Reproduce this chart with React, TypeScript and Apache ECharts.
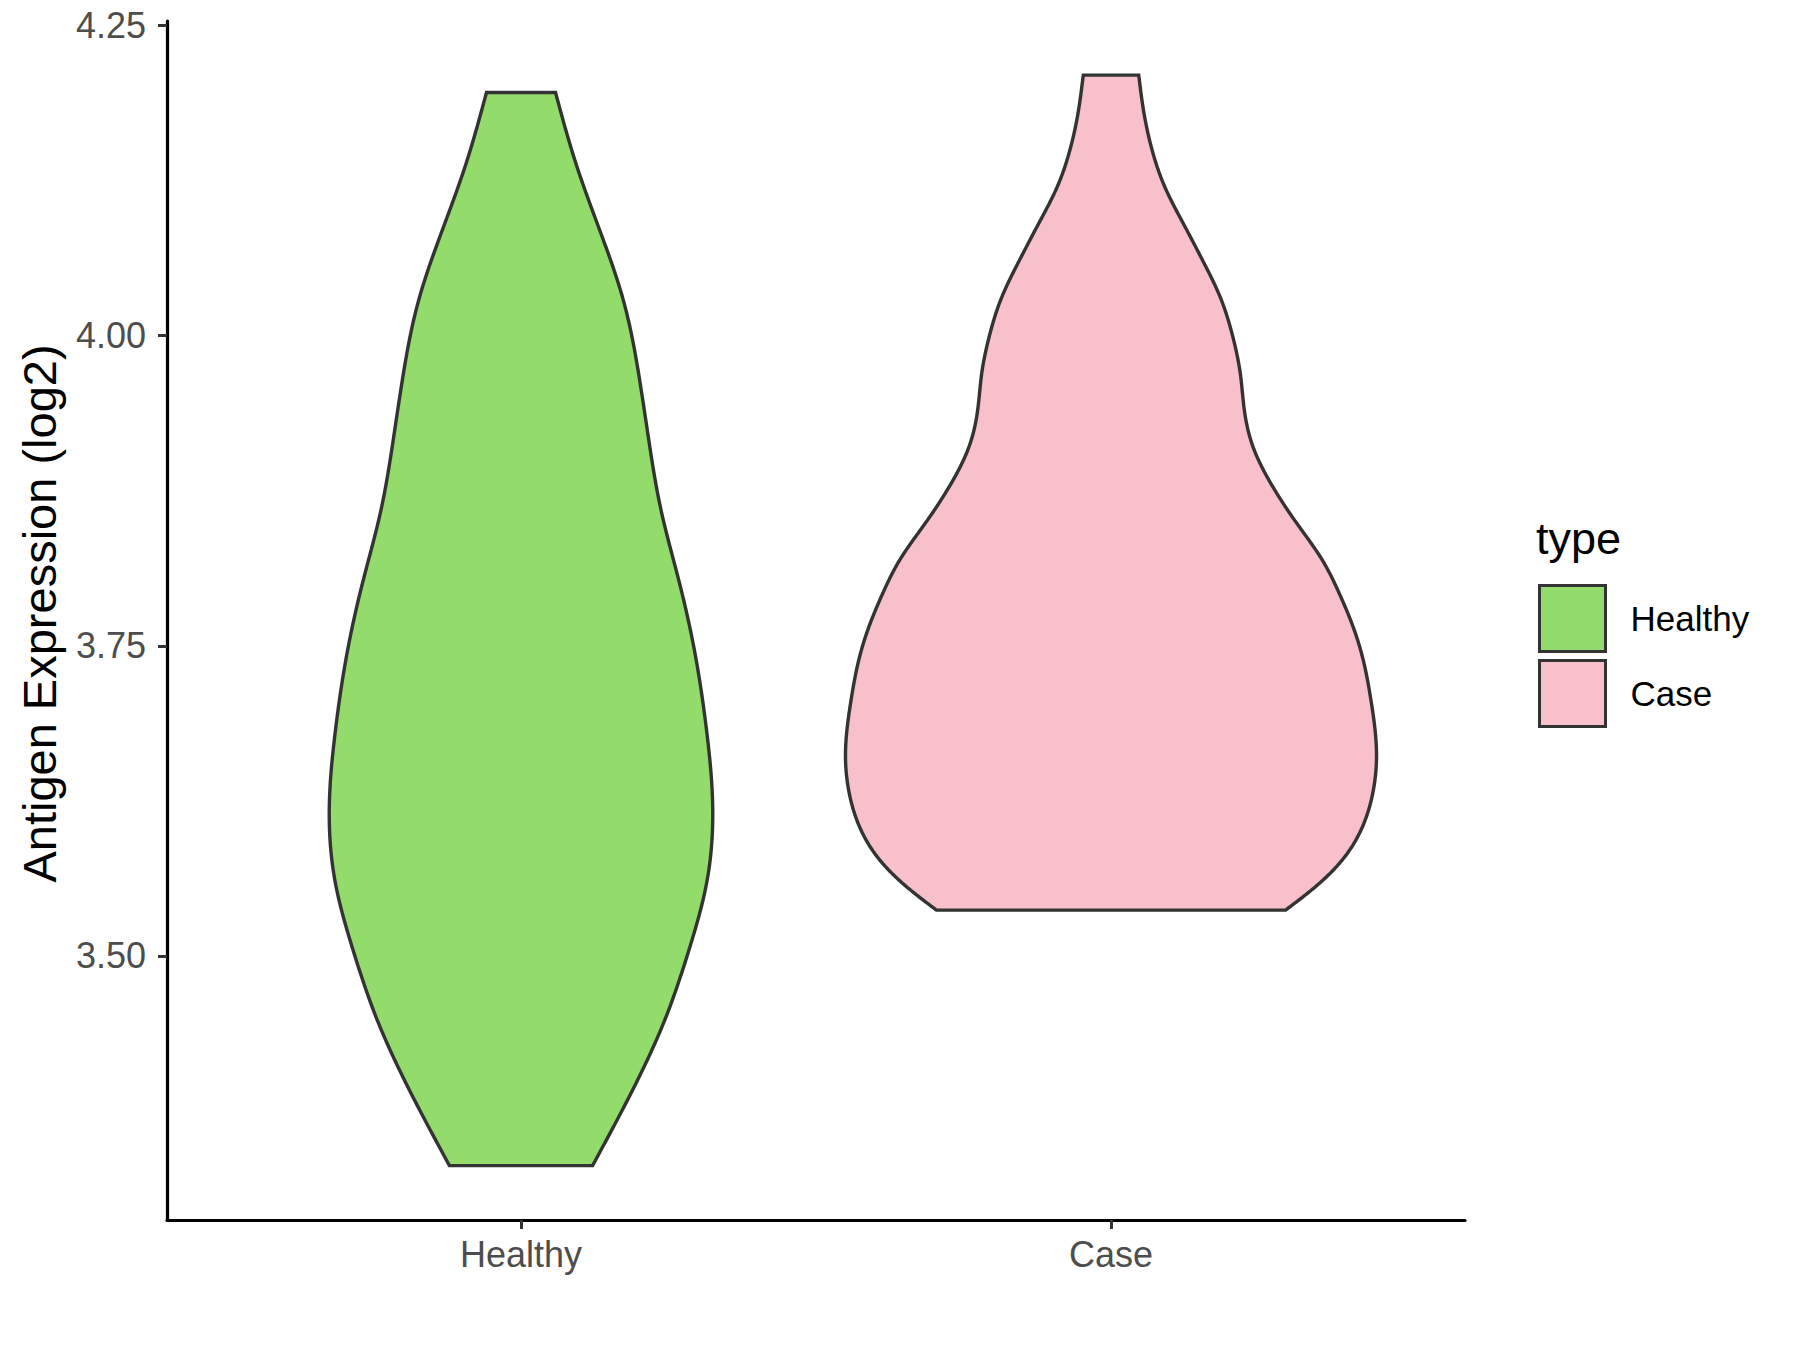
import React, { useEffect, useRef } from "react";
import * as echarts from "echarts";

// ---- data ----
const categories = ["Healthy", "Case"];
const yTicks = [3.5, 3.75, 4.0, 4.25];
const yMin = 3.2872;
const yMax = 4.2536;

// violin outline: expression value and half-width (in category units)
const healthyY = [3.331, 3.395, 3.449, 3.505, 3.559, 3.621, 3.68, 3.75, 3.804, 3.858, 3.912, 3.966, 4.03, 4.084, 4.138, 4.196];
const healthyHalfWidth = [0.1213, 0.1924, 0.2442, 0.2848, 0.3147, 0.3249, 0.315, 0.2925, 0.2668, 0.238, 0.2178, 0.2005, 0.1726, 0.1342, 0.0936, 0.0585];

const caseY = [3.537, 3.556, 3.578, 3.605, 3.632, 3.659, 3.705, 3.745, 3.772, 3.79, 3.82, 3.85, 3.88, 3.91, 3.94, 3.97, 4.0, 4.03, 4.06, 4.09, 4.119, 4.149, 4.179, 4.21];
const caseHalfWidth = [0.296, 0.347, 0.393, 0.427, 0.444, 0.45, 0.441, 0.424, 0.405, 0.389, 0.357, 0.313, 0.272, 0.241, 0.226, 0.219, 0.206, 0.186, 0.156, 0.123, 0.092, 0.07, 0.056, 0.047];

const fillColors = ["#93DB6A", "#F7C0CB"];
const outline = "#333333";
const FONT = "Liberation Sans, Arial, Helvetica, sans-serif";

// natural cubic spline through (xs, ys); returns an evaluator
function makeSpline(xs: number[], ys: number[]) {
  const n = xs.length;
  const h: number[] = [];
  for (let i = 0; i < n - 1; i++) h.push(xs[i + 1] - xs[i]);
  const M = new Array(n).fill(0);
  if (n > 2) {
    const a: number[] = [], b: number[] = [], c: number[] = [], d: number[] = [];
    for (let i = 1; i < n - 1; i++) {
      a.push(h[i - 1]);
      b.push(2 * (h[i - 1] + h[i]));
      c.push(h[i]);
      d.push(6 * ((ys[i + 1] - ys[i]) / h[i] - (ys[i] - ys[i - 1]) / h[i - 1]));
    }
    const m = b.length;
    for (let i = 1; i < m; i++) {
      const w = a[i] / b[i - 1];
      b[i] -= w * c[i - 1];
      d[i] -= w * d[i - 1];
    }
    const sol = new Array(m).fill(0);
    sol[m - 1] = d[m - 1] / b[m - 1];
    for (let i = m - 2; i >= 0; i--) sol[i] = (d[i] - c[i] * sol[i + 1]) / b[i];
    for (let i = 0; i < m; i++) M[i + 1] = sol[i];
  }
  return (x: number, i: number) => {
    const hi = h[i];
    const A = xs[i + 1] - x;
    const B = x - xs[i];
    return (
      (M[i] * A * A * A) / (6 * hi) +
      (M[i + 1] * B * B * B) / (6 * hi) +
      (ys[i] / hi - (M[i] * hi) / 6) * A +
      (ys[i + 1] / hi - (M[i + 1] * hi) / 6) * B
    );
  };
}

export default function App() {
  const ref = useRef<HTMLDivElement>(null);

  useEffect(() => {
    if (!ref.current) return;
    const chart = echarts.init(ref.current, null, { renderer: "svg" });

    const violins = [
      { name: categories[0], pos: 1, ys: healthyY, hw: healthyHalfWidth, color: fillColors[0] },
      { name: categories[1], pos: 2, ys: caseY, hw: caseHalfWidth, color: fillColors[1] },
    ];

    const series = violins.map((v) => ({
      type: "custom",
      name: v.name,
      coordinateSystem: "cartesian2d",
      clip: false,
      data: v.ys.map((y, i) => [v.pos, y, v.hw[i]]),
      encode: { x: 0, y: 1 },
      itemStyle: { color: v.color, borderColor: outline, borderWidth: 3 },
      renderItem: (params: any, api: any) => {
        if (params.dataIndex !== 0) return { type: "group", children: [] };
        const f = makeSpline(v.ys, v.hw);
        const right: number[][] = [];
        const left: number[][] = [];
        const seg = 20;
        for (let i = 0; i < v.ys.length - 1; i++) {
          for (let s = 0; s < seg; s++) {
            const y = v.ys[i] + ((v.ys[i + 1] - v.ys[i]) * s) / seg;
            const w = f(y, i);
            right.push(api.coord([v.pos + w, y]));
            left.push(api.coord([v.pos - w, y]));
          }
        }
        const last = v.ys.length - 1;
        right.push(api.coord([v.pos + v.hw[last], v.ys[last]]));
        left.push(api.coord([v.pos - v.hw[last], v.ys[last]]));
        return {
          type: "polygon",
          shape: { points: right.concat(left.reverse()) },
          style: { fill: v.color, stroke: outline, lineWidth: 3.4, lineJoin: "miter" },
        };
      },
    }));

    chart.setOption({
      animation: false,
      backgroundColor: "#ffffff",
      grid: { left: 167, right: 335, top: 21, bottom: 130, containLabel: false },
      xAxis: {
        type: "value",
        min: 0.4,
        max: 2.6,
        splitLine: { show: false },
        axisLine: { show: true, onZero: false, lineStyle: { color: "#000000", width: 3.2 } },
        axisTick: { show: true, length: 9, customValues: [1, 2], lineStyle: { color: outline, width: 3 } },
        axisLabel: {
          customValues: [1, 2],
          formatter: (val: number) => categories[Math.round(val) - 1] ?? "",
          color: "#4D4D4D",
          fontSize: 36,
          fontFamily: FONT,
          margin: 16,
        },
      },
      yAxis: {
        type: "value",
        min: yMin,
        max: yMax,
        name: "Antigen Expression (log2)",
        nameLocation: "middle",
        nameGap: 104,
        nameRotate: 90,
        nameTextStyle: { color: "#000000", fontSize: 47, fontFamily: FONT, padding: [0, 0, 0, 14] },
        splitLine: { show: false },
        axisLine: { show: true, onZero: false, lineStyle: { color: "#000000", width: 3.2 } },
        axisTick: { show: true, length: 9, customValues: yTicks, lineStyle: { color: outline, width: 3 } },
        axisLabel: {
          customValues: yTicks,
          formatter: (val: number) => val.toFixed(2),
          color: "#4D4D4D",
          fontSize: 36,
          fontFamily: FONT,
          margin: 21,
        },
      },
      legend: {
        show: true,
        orient: "vertical",
        left: 1538,
        top: 584,
        padding: 0,
        itemWidth: 66,
        itemHeight: 66,
        itemGap: 6,
        selectedMode: false,
        icon: "rect",
        itemStyle: { borderColor: outline, borderWidth: 3 },
        textStyle: { color: "#000000", fontSize: 35, fontFamily: FONT, padding: [0, 0, 0, 20] },
        data: categories,
      },
      graphic: [
        {
          type: "text",
          left: 1536,
          top: 516,
          style: { text: "type", fill: "#000000", font: `45px ${FONT}` },
        },
      ],
      series,
    });

    return () => chart.dispose();
  }, []);

  return (
    <div
      ref={ref}
      style={{ position: "fixed", left: 0, top: 0, width: 1800, height: 1350, background: "#fff" }}
    />
  );
}
